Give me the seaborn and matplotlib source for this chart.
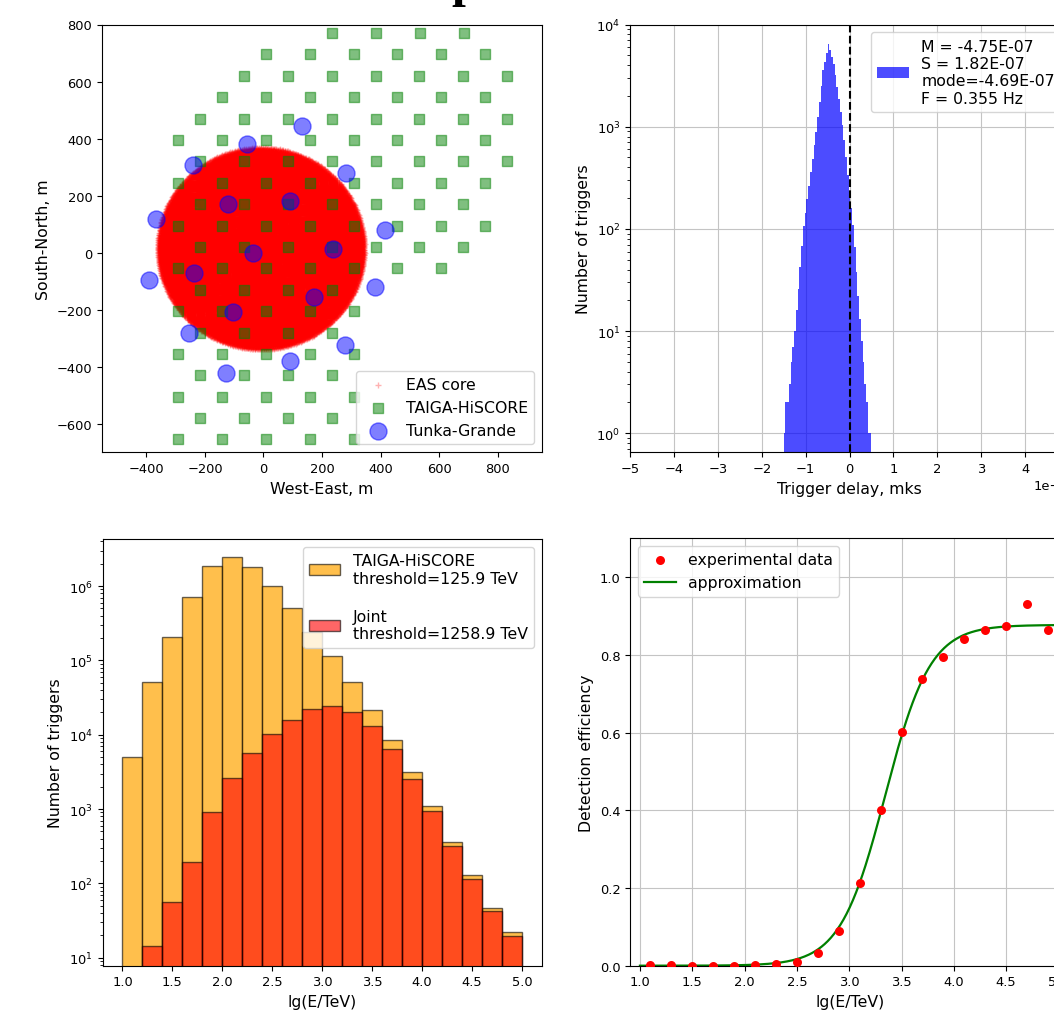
import numpy as np
import pandas as pd
import matplotlib
matplotlib.use("Agg")
import matplotlib.pyplot as plt
from matplotlib.ticker import MultipleLocator
import seaborn as sns

plt.rcParams["font.family"] = ["DejaVu Sans"]
TICK_FS = 9.4
LABEL_FS = 11.3
LEG_FS = 11.3
plt.rcParams["xtick.labelsize"] = TICK_FS
plt.rcParams["ytick.labelsize"] = TICK_FS
plt.rcParams["grid.color"] = "#c4c4c4"

# ---------------- Panel 1: array layout ----------------
eas_core_center = (-8.0, 14.0)
eas_core_radius = 354.0
eas_core_count = 30000

hiscore_row_y = [770, 695, 620, 545, 470, 395, 320, 245, 170, 95, 20, -55,
                 -130, -205, -280, -355, -430, -505, -580, -655]
hiscore_row_x = [
    [235, 385, 535, 685],
    [8, 158, 308, 458, 608, 758],
    [-67, 83, 233, 383, 533, 683, 833],
    [-142, 8, 158, 308, 458, 608, 758],
    [-217, -67, 83, 233, 383, 533, 683, 833],
    [-292, -142, 8, 158, 308, 458, 608, 758],
    [-217, -67, 83, 233, 383, 533, 683, 833],
    [-292, -142, 8, 158, 308, 458, 608, 758],
    [-217, -67, 83, 233, 383, 533, 683],
    [-292, -142, 8, 158, 308, 458, 608, 758],
    [-217, -67, 83, 233, 383, 533, 683],
    [-292, -142, 8, 158, 308, 458, 608],
    [-217, -67, 83, 233],
    [-292, -142, 8, 158, 308],
    [-217, -67, 83, 233],
    [-292, -142, 8, 158, 308],
    [-217, -67, 83, 233],
    [-292, -142, 8, 158, 308],
    [-217, -67, 83, 233],
    [-292, -142, 8, 158, 308],
]

tunka_x = [133, -57, -241, 282, -367, -120, 91, 416, -36, 236, -390, -236,
           382, 174, -103, -256, 277, 91, -129]
tunka_y = [443, 381, 308, 280, 119, 169, 182, 80, -1, 14, -96, -71,
           -122, -157, -207, -282, -324, -381, -421]

# ---------------- Panel 2: trigger delay histogram ----------------
delay_range_us = (-1.5, 0.5)
delay_counts = [1, 2, 2, 3, 5, 7, 10, 16, 26, 42,
                68, 106, 144, 195, 265, 358, 482, 655, 890, 1230,
                1760, 2510, 3550, 4310, 5250, 6450, 5600, 4800, 4150, 3230,
                2450, 1850, 1400, 1050, 740, 500, 340, 233, 160, 110,
                66, 38, 22, 13, 8, 5, 3, 2, 1, 1]
delay_label = "M = -4.75E-07\nS = 1.82E-07\nmode=-4.69E-07\nF = 0.355 Hz"

# ---------------- Panel 3: energy histograms ----------------
energy_edges = [1.0, 1.2, 1.4, 1.6, 1.8, 2.0, 2.2, 2.4, 2.6, 2.8, 3.0,
                3.2, 3.4, 3.6, 3.8, 4.0, 4.2, 4.4, 4.6, 4.8, 5.0]
hiscore_counts = [5070, 51900, 205000, 710000, 1850000, 2450000, 1800000,
                  997000, 505000, 244000, 114000, 50900, 21600, 8600, 3130,
                  1100, 364, 131, 46, 22.4]
joint_counts = [0, 14.5, 56.7, 192, 923, 2650, 5690, 10160, 15960, 22250,
                24650, 20460, 13010, 6440, 2540, 942, 322, 115, 43, 19.8]
hiscore_label = "TAIGA-HiSCORE\nthreshold=125.9 TeV"
joint_label = "Joint\nthreshold=1258.9 TeV"

# ---------------- Panel 4: detection efficiency ----------------
eff_lgE = [1.1, 1.3, 1.5, 1.7, 1.9, 2.1, 2.3, 2.5, 2.7, 2.9,
           3.1, 3.3, 3.5, 3.7, 3.9, 4.1, 4.3, 4.5, 4.7, 4.9]
eff_values = [0.002, 0.002, 0.0, 0.0, 0.0, 0.003, 0.004, 0.010, 0.032, 0.090,
              0.2125, 0.401, 0.602, 0.739, 0.794, 0.842, 0.865, 0.875, 0.932, 0.863]
# fitted logistic approximation parameters
fit_plateau = 0.877
fit_center = 3.344
fit_slope = 4.65

# ======================================================
W, H = 1054, 1012
fig = plt.figure(figsize=(W / 100, H / 100), dpi=100)


def rect(l, r, t, b):
    return [l / W, 1 - b / H, (r - l) / W, (b - t) / H]


ax1 = fig.add_axes(rect(102, 542, 25.5, 453.3))
ax2 = fig.add_axes(rect(630, 1069, 25.5, 453.3))
ax3 = fig.add_axes(rect(102.5, 542, 540, 966.7))
ax4 = fig.add_axes(rect(630, 1070, 539.3, 966.7))

# cropped title (only the descender of one glyph is visible)
fig.text(465 / W, 1 + 4 / H, "p", ha="center", va="baseline",
         family="Liberation Serif", fontweight="bold", fontsize=36)

# ---- Panel 1
n = np.arange(eas_core_count)
golden = np.pi * (3 - np.sqrt(5))
rr = eas_core_radius * np.sqrt((n + 0.5) / eas_core_count)
core = pd.DataFrame({"x": eas_core_center[0] + rr * np.cos(n * golden),
                     "y": eas_core_center[1] + rr * np.sin(n * golden)})
sns.scatterplot(data=core, x="x", y="y", marker="+", color="red", alpha=0.3,
                s=25, linewidth=1, ax=ax1, label="EAS core")

hx = [x for row in hiscore_row_x for x in row]
hy = [y for y, row in zip(hiscore_row_y, hiscore_row_x) for _ in row]
sns.scatterplot(x=hx, y=hy, marker="s", color="green", alpha=0.5, s=55,
                edgecolor="green", linewidth=1, ax=ax1, label="TAIGA-HiSCORE")
sns.scatterplot(x=tunka_x, y=tunka_y, marker="o", color="blue", alpha=0.5, s=150,
                edgecolor="blue", linewidth=1, ax=ax1, label="Tunka-Grande")
ax1.set_xlim(-552, 952)
ax1.set_ylim(-700, 800)
ax1.set_xticks([-400, -200, 0, 200, 400, 600, 800])
ax1.set_yticks([-600, -400, -200, 0, 200, 400, 600, 800])
ax1.set_xlabel("West-East, m", fontsize=LABEL_FS)
ax1.set_ylabel("South-North, m", fontsize=LABEL_FS)
ax1.legend(loc="lower right", fontsize=LEG_FS)

# ---- Panel 2
nb = len(delay_counts)
edges_us = np.linspace(delay_range_us[0], delay_range_us[1], nb + 1)
centers_us = 0.5 * (edges_us[:-1] + edges_us[1:])
delay_df = pd.DataFrame({"t": centers_us * 1e-6, "n": delay_counts})
sns.histplot(data=delay_df, x="t", weights="n", bins=list(edges_us * 1e-6),
             color="blue", alpha=0.7, linewidth=0, ax=ax2, label=delay_label)
ax2.set_yscale("log")
ax2.axvline(0, color="black", linestyle="--", linewidth=1.5)
ax2.set_xlim(-5e-6, 5e-6)
ax2.xaxis.set_major_locator(MultipleLocator(1e-6))
ax2.set_ylim(0.65, 1e4)
ax2.grid(True)
ax2.set_axisbelow(True)
ax2.set_xlabel("Trigger delay, mks", fontsize=LABEL_FS)
ax2.set_ylabel("Number of triggers", fontsize=LABEL_FS)
ax2.legend(loc="upper right", fontsize=LEG_FS)

# ---- Panel 3
e_edges = np.array(energy_edges)
e_centers = 0.5 * (e_edges[:-1] + e_edges[1:])
energy_df = pd.DataFrame({"lgE": e_centers, "hiscore": hiscore_counts,
                          "joint": joint_counts})
sns.histplot(data=energy_df, x="lgE", weights="hiscore", bins=energy_edges,
             color="orange", alpha=0.7, edgecolor=(0, 0, 0, 0.6), linewidth=1,
             ax=ax3, label=hiscore_label)
sns.histplot(data=energy_df, x="lgE", weights="joint", bins=energy_edges,
             color="red", alpha=0.6, edgecolor=(0, 0, 0, 0.6), linewidth=1,
             ax=ax3, label=joint_label)
ax3.set_yscale("log")
ax3.set_xlim(0.8, 5.2)
ax3.set_ylim(7.8, 4.3e6)
ax3.set_xticks([1.0, 1.5, 2.0, 2.5, 3.0, 3.5, 4.0, 4.5, 5.0])
ax3.set_xlabel("lg(E/TeV)", fontsize=LABEL_FS)
ax3.set_ylabel("Number of triggers", fontsize=LABEL_FS)
ax3.legend(loc="upper right", fontsize=LEG_FS, labelspacing=1.5)

# ---- Panel 4
curve_x = np.linspace(1.0, 5.0, 400)
curve_y = fit_plateau / (1 + np.exp(-fit_slope * (curve_x - fit_center)))
sns.scatterplot(x=eff_lgE, y=eff_values, color="red", s=42, linewidth=0,
                ax=ax4, label="experimental data", zorder=3)
sns.lineplot(x=curve_x, y=curve_y, color="green", linewidth=1.6, ax=ax4,
             label="approximation")
ax4.set_xlim(0.905, 5.11)
ax4.set_ylim(0, 1.1)
ax4.set_xticks([1.0, 1.5, 2.0, 2.5, 3.0, 3.5, 4.0, 4.5, 5.0])
ax4.set_yticks([0.0, 0.2, 0.4, 0.6, 0.8, 1.0])
ax4.grid(True)
ax4.set_axisbelow(True)
ax4.set_xlabel("lg(E/TeV)", fontsize=LABEL_FS)
ax4.set_ylabel("Detection efficiency", fontsize=LABEL_FS)
ax4.legend(loc="upper left", fontsize=LEG_FS)

fig.savefig("out.png", dpi=100)
